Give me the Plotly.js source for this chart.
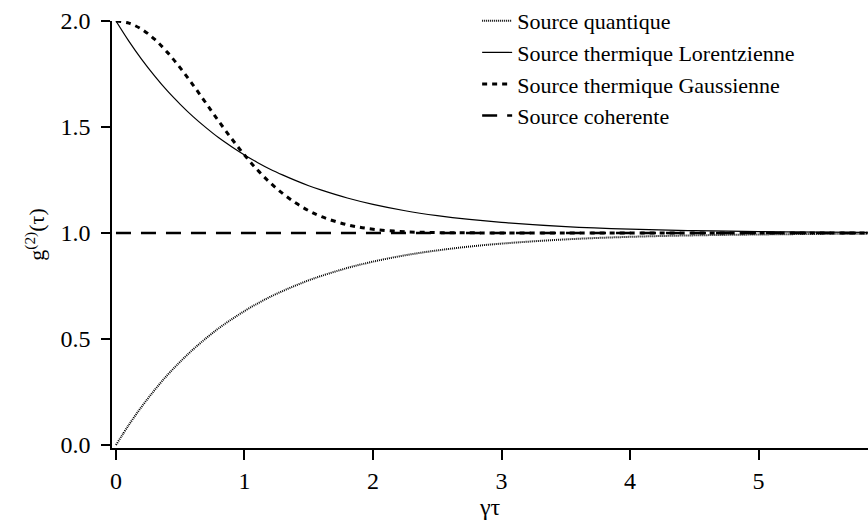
<!DOCTYPE html>
<html>
<head>
<meta charset="utf-8">
<script src="https://cdn.plot.ly/plotly-3.0.1.min.js"></script>
<style>html,body{margin:0;padding:0;background:#fff;}#chart{width:868px;height:530px;}</style>
</head>
<body>
<div id="chart"></div>
<script>
// Shared abscissa (γτ) for the three curves
const xTau = [0, 0.1, 0.2, 0.3, 0.4, 0.5, 0.6, 0.7, 0.8, 0.9, 1.0, 1.1, 1.2, 1.3, 1.4, 1.5, 1.6, 1.8, 2.0, 2.25, 2.5, 2.75, 3.0, 3.5, 4.0, 4.5, 5.0, 5.5, 5.85];
const quantique = [0.000, 0.095, 0.181, 0.259, 0.330, 0.393, 0.451, 0.503, 0.551, 0.593, 0.632, 0.667, 0.699, 0.727, 0.753, 0.777, 0.798, 0.835, 0.865, 0.895, 0.918, 0.936, 0.950, 0.970, 0.982, 0.989, 0.993, 0.996, 0.997];
const lorentz   = [2.000, 1.905, 1.819, 1.741, 1.670, 1.607, 1.549, 1.497, 1.449, 1.407, 1.368, 1.333, 1.301, 1.273, 1.247, 1.223, 1.202, 1.165, 1.135, 1.105, 1.082, 1.064, 1.050, 1.030, 1.018, 1.011, 1.007, 1.004, 1.003];
const gauss     = [2.000, 1.990, 1.961, 1.914, 1.852, 1.779, 1.698, 1.613, 1.527, 1.445, 1.368, 1.298, 1.237, 1.185, 1.141, 1.105, 1.077, 1.039, 1.018, 1.006, 1.002, 1.001, 1.000, 1.000, 1.000, 1.000, 1.000, 1.000, 1.000];
const xCoh = [0, 5.85];
const coherente = [1.0, 1.0];

const names = ["Source quantique", "Source thermique Lorentzienne", "Source thermique Gaussienne", "Source coherente"];
const xTicks = [0, 1, 2, 3, 4, 5];
const yTicks = [0.0, 0.5, 1.0, 1.5, 2.0];
const yTickText = ["0.0", "0.5", "1.0", "1.5", "2.0"];

const FAM = "Liberation Serif";

const traces = [
  {x: xTau, y: quantique, name: names[0], mode: "lines", line: {color: "#000", width: 2, dash: "1px,1px", shape: "spline"}},
  {x: xTau, y: lorentz, name: names[1], mode: "lines", line: {color: "#000", width: 1.2, shape: "spline"}},
  {x: xTau, y: gauss, name: names[2], mode: "lines", line: {color: "#000", width: 3, dash: "5px,5px", shape: "spline"}},
  {x: xCoh, y: coherente, name: names[3], mode: "lines", line: {color: "#000", width: 2.5, dash: "15px,10px"}}
];

const layout = {
  width: 868, height: 530,
  margin: {l: 112, r: 0, t: 20, b: 82},
  paper_bgcolor: "#fff", plot_bgcolor: "#fff",
  font: {family: FAM, color: "#000", size: 24},
  showlegend: true,
  legend: {x: 0.483, y: 1.05, xanchor: "left", yanchor: "top", bgcolor: "rgba(0,0,0,0)",
           font: {family: FAM, size: 22, color: "#000"}, tracegroupgap: 0, itemwidth: 30},
  xaxis: {range: [-0.031, 5.852], tickvals: xTicks, ticktext: xTicks.map(String),
          ticks: "outside", ticklen: 10, tickwidth: 1.5, tickcolor: "#000", ticklabelstandoff: 0,
          showline: true, linecolor: "#000", linewidth: 1.5, showgrid: false, zeroline: false,
          tickfont: {family: FAM, size: 24, color: "#000"},
          title: {text: "γτ", font: {family: FAM, size: 24, color: "#000"}, standoff: 5}},
  yaxis: {range: [-0.014, 2.0], tickvals: yTicks, ticktext: yTickText,
          ticks: "outside", ticklen: 9, tickwidth: 1.5, tickcolor: "#000", ticklabelstandoff: 6,
          showline: true, linecolor: "#000", linewidth: 1.5, showgrid: false, zeroline: false,
          tickfont: {family: FAM, size: 24, color: "#000"},
          title: {text: "g<sup>(2)</sup>(τ)", font: {family: FAM, size: 22, color: "#000"}, standoff: 10}}
};

Plotly.newPlot("chart", traces, layout, {displayModeBar: false});
</script>
</body>
</html>
